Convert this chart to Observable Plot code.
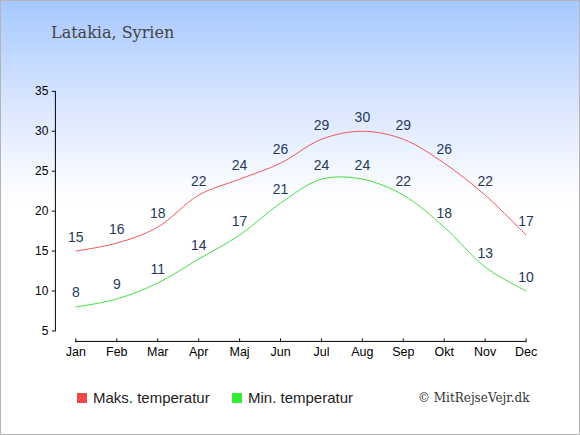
<!DOCTYPE html>
<html>
<head>
<meta charset="utf-8">
<script src="https://cdn.jsdelivr.net/npm/d3@7"></script>
<script src="https://cdn.jsdelivr.net/npm/@observablehq/plot@0.6"></script>
<style>
  html, body { margin: 0; padding: 0; }
  #wrap {
    position: relative; width: 580px; height: 435px; box-sizing: border-box;
    border: 1px solid #b4b4b4;
    background: linear-gradient(to bottom, #a6c8ff 0px, #dce8ff 110px, #ffffff 200px, #ffffff 435px);
    overflow: hidden;
  }
  #chart { position: absolute; left: -1px; top: -1px; }
  .title { position: absolute; left: 50px; top: 22px; font-family: "DejaVu Serif", serif; font-size: 16px; color: #444; }
  .legend { position: absolute; top: 388px; font-family: "Liberation Sans", Arial, sans-serif; font-size: 15px; color: #222; display: flex; align-items: center; }
  .sw { width: 10px; height: 10px; margin-right: 6px; }
  .copy { position: absolute; left: 417px; top: 390px; font-family: "DejaVu Serif", serif; font-size: 12px; color: #333; }
</style>
</head>
<body>
<div id="wrap">
  <div id="chart"></div>
  <div class="title">Latakia, Syrien</div>
  <div class="legend" style="left:76px"><div class="sw" style="background:#f04848"></div>Maks. temperatur</div>
  <div class="legend" style="left:231px"><div class="sw" style="background:#33ee33"></div>Min. temperatur</div>
  <div class="copy">© MitRejseVejr.dk</div>
</div>
<script>
const months = ["Jan","Feb","Mar","Apr","Maj","Jun","Jul","Aug","Sep","Okt","Nov","Dec"];
const maxTemp = [15,16,18,22,24,26,29,30,29,26,22,17];
const minTemp = [8,9,11,14,17,21,24,24,22,18,13,10];
const yTicks = [5,10,15,20,25,30,35];

const maxData = months.map((m, i) => ({month: m, value: maxTemp[i]}));
const minData = months.map((m, i) => ({month: m, value: minTemp[i]}));

const chart = Plot.plot({
  width: 580,
  height: 435,
  marginLeft: 55,
  marginRight: 33,
  marginTop: 91,
  marginBottom: 104,
  style: {background: "transparent", fontFamily: "'Liberation Sans', Arial, sans-serif", fontSize: "12px", color: "#000"},
  x: {type: "point", domain: months, padding: 0.5, round: false},
  y: {domain: [5, 35]},
  marks: [
    Plot.frame({anchor: "left", stroke: "#000", strokeWidth: 1, strokeOpacity: 1}),
    Plot.axisY({ticks: yTicks, tickSize: 3, tickPadding: 4, fontSize: 12, stroke: "#000", strokeOpacity: 1, label: null, fill: "#000"}),
    Plot.ruleY([5], {x1: () => months[0], x2: () => months[months.length - 1], dy: 10.5, stroke: "#000", strokeWidth: 1}),
    Plot.axisX({tickSize: 4, dy: 8, tickPadding: 4, fontSize: 12.5, label: null, stroke: "#000", strokeOpacity: 1, fill: "#000"}),
    Plot.line(maxData, {x: "month", y: "value", stroke: "#f45555", strokeWidth: 1, curve: "catmull-rom"}),
    Plot.line(minData, {x: "month", y: "value", stroke: "#44e044", strokeWidth: 1, curve: "catmull-rom"}),
    Plot.text(maxData, {x: "month", y: "value", text: d => String(d.value), dy: -14, fill: "#26385a", fontSize: 14}),
    Plot.text(minData, {x: "month", y: "value", text: d => String(d.value), dy: -14, fill: "#26385a", fontSize: 14})
  ]
});
document.getElementById("chart").appendChild(chart);
</script>
</body>
</html>
